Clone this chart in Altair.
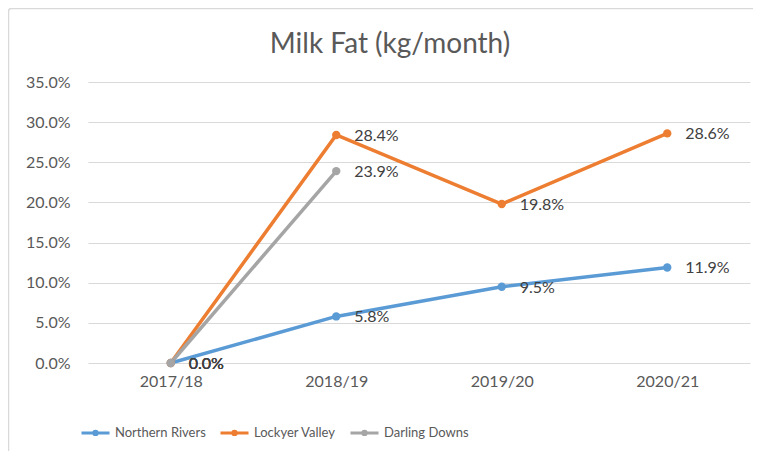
import altair as alt
import pandas as pd

title_text = "Milk Fat (kg/month)"
years = ["2017/18", "2018/19", "2019/20", "2020/21"]
series_names = ["Northern Rivers", "Lockyer Valley", "Darling Downs"]
northern_rivers = [0.0, 0.058, 0.095, 0.119]
lockyer_valley = [0.0, 0.284, 0.198, 0.286]
darling_downs = [0.0, 0.239, None, None]
colors = ["#5B9BD5", "#ED7D31", "#A5A5A5"]
y_ticks = [0, 0.05, 0.10, 0.15, 0.20, 0.25, 0.30, 0.35]

rows = []
for name, vals in zip(series_names, [northern_rivers, lockyer_valley, darling_downs]):
    for yr, v in zip(years, vals):
        if v is not None:
            rows.append({"Year": yr, "Series": name, "Value": v, "order": series_names.index(name)})
df = pd.DataFrame(rows)

FONT = "Lato, sans-serif"
W, H = 662, 281
PL, PT, PR, PB = 80, 74, 3, 88

x_enc = alt.X("Year:N", sort=years, scale=alt.Scale(domain=years),
              axis=alt.Axis(title=None, labelAngle=0, domain=False, domainOpacity=0, ticks=False,
                            labelPadding=10, labelFontSize=16, labelColor="#595959", labelFont=FONT,
                            grid=False, gridOpacity=0))
y_enc = alt.Y("Value:Q", scale=alt.Scale(domain=[0, 0.35], nice=False),
              axis=alt.Axis(title=None, format=".1%", values=y_ticks, domain=False, domainOpacity=0,
                            ticks=False, labelPadding=18, labelFontSize=16, labelColor="#595959",
                            labelFont=FONT, gridColor="#D9D9D9", gridWidth=1))
color_enc = alt.Color("Series:N", sort=series_names,
                      scale=alt.Scale(domain=series_names, range=colors),
                      legend=alt.Legend(title=None, orient="none", direction="horizontal",
                                        legendX=-8, legendY=335,
                                        symbolType="M-1,0L1,0M0.12,0A0.12,0.12,0,1,1,-0.12,0A0.12,0.12,0,1,1,0.12,0Z",
                                        symbolSize=784, symbolStrokeWidth=3,
                                        labelFontSize=13, labelColor="#595959", labelFont=FONT,
                                        labelOffset=4, columnPadding=8))

one = pd.DataFrame({"t": [title_text]})

border = alt.Chart(one).mark_rect(
    fill=None, stroke="#D9D9D9", strokeWidth=1.5, cornerRadius=3
).encode(x=alt.value(-79.5), x2=alt.value(W + PR + 20), y=alt.value(-73.5), y2=alt.value(H + PB + 20))

title = alt.Chart(one).mark_text(
    fontSize=28, font=FONT, color="#595959", align="center", baseline="alphabetic"
).encode(x=alt.value(302), y=alt.value(-29), text="t:N")

base = alt.Chart(df)
lines = base.mark_line(strokeWidth=3.5, point=alt.OverlayMarkDef(filled=True, size=70)).encode(
    x=x_enc, y=y_enc, color=color_enc, order="order:Q"
)
labels = base.mark_text(align="left", baseline="middle", dx=18, dy=1, fontSize=16,
                        font=FONT, color="#404040").encode(
    x=x_enc, y=y_enc, text=alt.Text("Value:Q", format=".1%")
)

chart = alt.layer(border, title, lines, labels).properties(
    width=W, height=H,
    background="white",
    autosize=alt.AutoSizeParams(type="none"),
    padding={"left": PL, "top": PT, "right": PR, "bottom": PB},
).configure_view(strokeWidth=0, stroke="transparent").configure_axis(
    domain=False, ticks=False
).configure_axisX(grid=False, domain=False).configure_axisY(domain=False)

chart.save("out.html", embed_options={"renderer": "svg", "actions": False})
